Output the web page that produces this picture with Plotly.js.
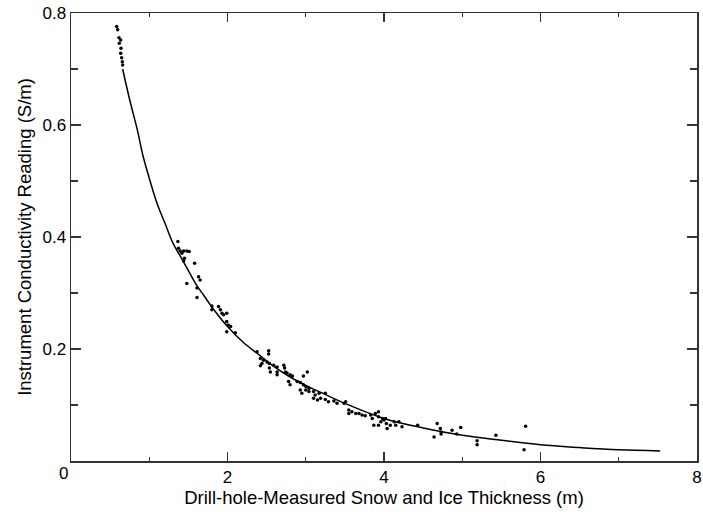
<!DOCTYPE html>
<html>
<head>
<meta charset="utf-8">
<script src="https://cdn.plot.ly/plotly-3.0.1.min.js"></script>
<style>html,body{margin:0;padding:0;background:#fff;}#chart{width:703px;height:512px;}</style>
</head>
<body>
<div id="chart"></div>
<script>
// Measured points (drill-hole thickness in m, conductivity reading in S/m)
var pointX = [0.584,0.596,0.613,0.635,0.617,0.639,0.635,0.647,0.656,0.660,
  1.366,1.374,1.395,1.44,1.48,1.51,1.417,1.45,1.44,1.58,1.48,1.63,1.65,1.61,1.61,
  1.80,1.80,1.886,1.91,1.93,1.95,1.99,1.99,2.01,2.04,1.99,2.10,
  2.378,2.526,2.526,2.42,2.46,2.44,2.42,2.505,2.535,2.535,2.548,2.59,2.634,2.634,2.634,
  2.72,2.73,2.74,2.76,2.80,2.83,3.02,2.97,2.78,2.80,2.89,2.93,2.97,3.00,2.93,2.95,
  3.04,3.00,3.04,3.10,3.12,3.17,3.10,3.15,3.19,3.25,3.25,3.29,3.36,
  3.40,3.49,3.51,3.55,3.55,3.59,3.64,3.68,3.72,3.76,3.83,3.85,3.89,3.93,3.93,3.87,3.93,
  3.98,4.00,4.02,3.96,4.04,4.03,4.08,4.13,4.15,4.19,4.23,4.43,
  4.68,4.72,4.73,4.73,4.64,4.87,4.93,4.98,5.19,5.19,5.43,5.81,5.79];
var pointY = [0.776,0.770,0.756,0.752,0.746,0.737,0.728,0.720,0.713,0.707,
  0.392,0.380,0.375,0.375,0.375,0.374,0.371,0.362,0.357,0.353,0.317,0.329,0.323,0.309,0.292,
  0.277,0.270,0.276,0.270,0.264,0.261,0.264,0.249,0.243,0.240,0.231,0.229,
  0.195,0.197,0.191,0.183,0.180,0.174,0.170,0.177,0.174,0.166,0.159,0.171,0.168,0.159,0.154,
  0.171,0.166,0.159,0.157,0.154,0.152,0.159,0.152,0.142,0.136,0.142,0.140,0.136,0.133,0.127,0.121,
  0.130,0.127,0.124,0.124,0.118,0.121,0.112,0.109,0.112,0.121,0.110,0.106,0.107,
  0.103,0.103,0.106,0.091,0.085,0.088,0.085,0.085,0.082,0.081,0.082,0.076,0.085,0.088,0.079,0.064,0.064,
  0.076,0.073,0.076,0.070,0.058,0.067,0.064,0.070,0.064,0.070,0.061,0.064,
  0.067,0.058,0.052,0.048,0.043,0.055,0.048,0.060,0.036,0.029,0.046,0.062,0.020];

// Fitted curve
var curveX = [0.66,0.75,0.85,0.92,1.0,1.1,1.2,1.3,1.4,1.5,1.6,1.7,1.8,2.0,2.2,2.4,2.6,2.8,3.0,3.2,3.5,4.0,4.5,5.0,5.5,6.0,6.5,7.0,7.53];
var curveY = [0.70,0.645,0.59,0.545,0.505,0.46,0.425,0.39,0.365,0.34,0.315,0.295,0.275,0.24,0.212,0.19,0.168,0.15,0.135,0.122,0.103,0.076,0.059,0.046,0.037,0.029,0.024,0.020,0.018];

var xTickVals = [0,2,4,6,8];
var xTickText = ['','2','4','6','8'];
var yTickVals = [0,0.2,0.4,0.6,0.8];
var yTickText = ['','0.2','0.4','0.6','0.8'];

var tickFont = {family:'Liberation Sans, Arial, sans-serif', size:17, color:'#000'};
var titleFont = {family:'Liberation Sans, Arial, sans-serif', size:18.5, color:'#000'};

var traces = [
  {x:curveX, y:curveY, mode:'lines', type:'scatter', line:{color:'#000', width:1.5, shape:'spline'}, hoverinfo:'none'},
  {x:pointX, y:pointY, mode:'markers', type:'scatter', marker:{color:'#000', size:3.5}, hoverinfo:'none'}
];

var axisCommon = {showline:true, linecolor:'#333', linewidth:1.5, mirror:'ticks', ticks:'inside',
  tickcolor:'#333', tickwidth:1.2, showgrid:false, zeroline:false, tickfont:tickFont, tickmode:'array'};

var layout = {
  width:703, height:512,
  margin:{l:71, r:6, t:13, b:51},
  showlegend:false,
  paper_bgcolor:'#fff', plot_bgcolor:'#fff',
  font:tickFont,
  xaxis:Object.assign({}, axisCommon, {range:[0,8], tickvals:xTickVals, ticktext:xTickText, ticklen:9,
    minor:{tickmode:'linear', tick0:0, dtick:1, ticklen:4, ticks:'inside', tickcolor:'#333', tickwidth:1.2},
    title:{text:'Drill-hole-Measured Snow and Ice Thickness (m)', font:titleFont, standoff:5}}),
  yaxis:Object.assign({}, axisCommon, {range:[0,0.8], tickvals:yTickVals, ticktext:yTickText, ticklen:10,
    minor:{tickmode:'linear', tick0:0, dtick:0.1, ticklen:7, ticks:'inside', tickcolor:'#333', tickwidth:1.2},
    title:{text:'Instrument Conductivity Reading (S/m)', font:titleFont, standoff:6}}),
  annotations:[{text:'0', xref:'paper', yref:'paper', x:0, y:0, xshift:-8, yshift:-12, showarrow:false, font:tickFont, xanchor:'center', yanchor:'middle'}]
};

Plotly.newPlot('chart', traces, layout, {staticPlot:true, displayModeBar:false});
</script>
</body>
</html>
